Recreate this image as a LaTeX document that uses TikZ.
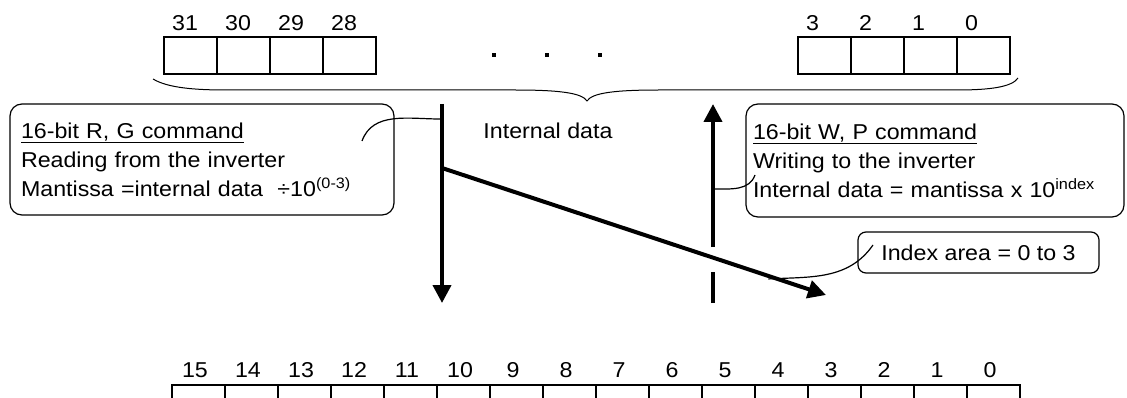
\documentclass[tikz,border=0pt]{standalone}
\usepackage{fontspec}
\setmainfont{Liberation Sans}[FakeStretch=1.08]
\usetikzlibrary{arrows.meta,positioning}
\tikzstyle{bit}=[rectangle, draw=black, line width=1.6pt, minimum width=53pt, minimum height=37pt, inner sep=0pt, anchor=north west]
\tikzstyle{bitno}=[font=\fontsize{21.5}{25}\selectfont, inner sep=0pt]
\tikzstyle{note}=[rectangle, draw=black, line width=1.2pt, rounded corners=12pt, font=\fontsize{21.5}{29}\selectfont, align=left, inner ysep=0pt]
\tikzstyle{flow}=[line width=4pt, -{Triangle[length=18pt,width=18pt]}]
\tikzstyle{hook}=[line width=1.2pt]

\begin{document}
\begin{tikzpicture}[x=1pt, y=-1pt]
\useasboundingbox (0,0) rectangle (1127,398);
\clip (0,0) rectangle (1127,398);

\foreach \i/\n in {0/31,1/30,2/29,3/28}{
  \node [bit] (hi\i) at (163+53*\i,36) {};
  \node [bitno, anchor=base west] at (172+53*\i,31) {\n};
}
\foreach \i/\n in {0/3,1/2,2/1,3/0}{
  \node [bit] (lo\i) at (797+53*\i,36) {};
  \node [bitno, anchor=base west] at (806+53*\i,31) {\n};
}
\foreach \x in {494,547,600}
  \fill (\x-2,53) rectangle (\x+2,57);

\draw [line width=1pt] (153,79) .. controls (168,88) and (195,90) .. (227,90) -- (515,90)
  .. controls (560,90) and (582,93) .. (587,101) .. controls (592,93) and (614,90) .. (659,90)
  -- (957,90) .. controls (990,90) and (1012,87) .. (1018,78);

\node [bitno] (internal) at (548,131) {Internal data};

\node [note, text width=362pt, inner xsep=11pt, minimum height=111pt] (rg) at (202,159.5)
  {\underline{16-bit R, G command}\\Reading from the inverter\\Mantissa =internal data\ \ ÷10\textsuperscript{(0-3)}};
\node [note, text width=364pt, inner xsep=7pt, minimum height=113pt] (wp) at (935,160.5)
  {\underline{16-bit W, P command}\\Writing to the inverter\\Internal data = mantissa x 10\textsuperscript{index}};
\node [note, rounded corners=8pt, align=center, minimum width=241pt, minimum height=41pt] (idx) at (978.5,252.5)
  {Index area = 0 to 3};

\coordinate (rdtop) at (442,104);
\coordinate (rdend) at (442,303);
\coordinate (rdhook) at (440,119);
\coordinate (rgtail) at (362,141);
\coordinate (diagstart) at (442,168);
\coordinate (diagend) at (826,295);
\coordinate (wpbot) at (713,303);
\coordinate (wpcut) at (713,272);
\coordinate (wpgap) at (713,247);
\coordinate (wptop) at (713,104);
\coordinate (wphook) at (715,189);
\coordinate (wptail) at (755,175);
\coordinate (idxtail) at (873,245);

\draw [flow] (rdtop) -- (rdend);
\draw [flow] (diagstart) -- (diagend) coordinate[pos=0.85] (idxhook);
\draw [line width=4pt] (wpbot) -- (wpcut);
\draw [flow] (wpgap) -- (wptop);

\draw [hook] (rgtail) to[out=70, in=180] (rdhook);
\draw [hook] (wphook) to[out=0, in=250] (wptail);
\draw [hook] ([yshift=-3pt]idxhook) to[out=3, in=235] (idxtail);

\foreach \i in {0,...,15}{
  \node [bit] (word\i) at (171+53*\i,384) {};
  \pgfmathtruncatemacro{\n}{15-\i}
  \node [bitno, anchor=base] at (195+53*\i,377) {\n};
}
\end{tikzpicture}
\end{document}
